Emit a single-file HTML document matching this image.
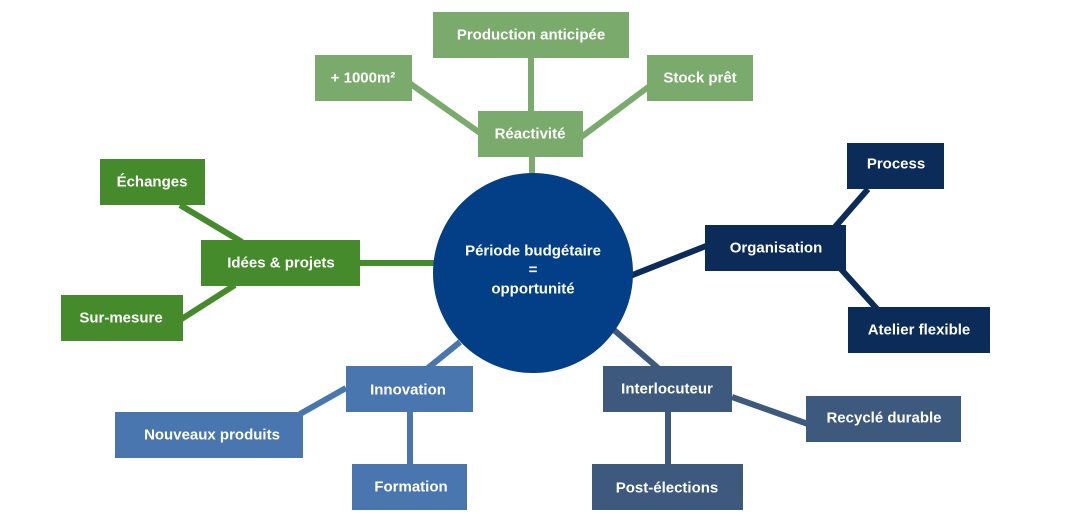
<!DOCTYPE html>
<html><head><meta charset="utf-8"><style>
html,body{margin:0;padding:0;background:#fff;}
svg{display:block;}
text{font-family:"Liberation Sans",sans-serif;font-weight:bold;font-size:15px;fill:#fff;text-anchor:middle;dominant-baseline:central;}
</style></head><body>
<svg width="1080" height="526" viewBox="0 0 1080 526">
<g stroke-width="6" fill="none">
<g stroke="#7aab6c">
<line x1="531" y1="58" x2="531" y2="112"/>
<line x1="405" y1="80" x2="490" y2="140"/>
<line x1="655" y1="82" x2="580" y2="138"/>
<line x1="532" y1="157" x2="532" y2="175"/>
</g>
<g stroke="#458b2c">
<line x1="180" y1="205" x2="242" y2="242"/>
<line x1="180" y1="320" x2="235" y2="285"/>
<line x1="360" y1="263" x2="436" y2="263"/>
</g>
<g stroke="#0b2b58">
<line x1="630" y1="276" x2="706" y2="246"/>
<line x1="835" y1="227" x2="868" y2="189"/>
<line x1="840" y1="268" x2="877" y2="309"/>
</g>
<g stroke="#3d5a7e">
<line x1="614" y1="330" x2="658" y2="368"/>
<line x1="732" y1="397" x2="808" y2="424"/>
<line x1="668" y1="412" x2="668" y2="466"/>
</g>
<g stroke="#4a76b0">
<line x1="460" y1="342" x2="428" y2="368"/>
<line x1="346" y1="388" x2="300" y2="414"/>
<line x1="410" y1="412" x2="410" y2="466"/>
</g>
</g>
<circle cx="533" cy="273" r="100" fill="#023f87"/>
<text x="533" y="251">Période budgétaire</text>
<text x="533" y="270">=</text>
<text x="533" y="289">opportunité</text>
<g fill="#7aab6c">
<rect x="433" y="12" width="196" height="46"/>
<rect x="315" y="55" width="97" height="46"/>
<rect x="647" y="55" width="106" height="46"/>
<rect x="478" y="111" width="105" height="46"/>
</g>
<g fill="#458b2c">
<rect x="100" y="159" width="105" height="46"/>
<rect x="201" y="240" width="159" height="46"/>
<rect x="61" y="295" width="122" height="46"/>
</g>
<g fill="#0b2b58">
<rect x="705" y="225" width="141" height="46"/>
<rect x="847" y="143" width="97" height="46"/>
<rect x="848" y="307" width="142" height="46"/>
</g>
<g fill="#3d5a7e">
<rect x="603" y="366" width="129" height="46"/>
<rect x="806" y="396" width="155" height="46"/>
<rect x="592" y="464" width="151" height="46"/>
</g>
<g fill="#4a76b0">
<rect x="346" y="366" width="127" height="46"/>
<rect x="115" y="412" width="188" height="46"/>
<rect x="352" y="464" width="115" height="46"/>
</g>
<text x="531" y="35">Production anticipée</text>
<text x="363" y="78">+ 1000m²</text>
<text x="700" y="78">Stock prêt</text>
<text x="530" y="134">Réactivité</text>
<text x="152" y="182">Échanges</text>
<text x="281" y="263">Idées &amp; projets</text>
<text x="121" y="318">Sur-mesure</text>
<text x="776" y="248">Organisation</text>
<text x="896" y="164">Process</text>
<text x="919" y="330">Atelier flexible</text>
<text x="667" y="389">Interlocuteur</text>
<text x="884" y="418">Recyclé durable</text>
<text x="667" y="488">Post-élections</text>
<text x="408" y="390">Innovation</text>
<text x="212" y="435">Nouveaux produits</text>
<text x="411" y="487">Formation</text>
</svg>
</body></html>
